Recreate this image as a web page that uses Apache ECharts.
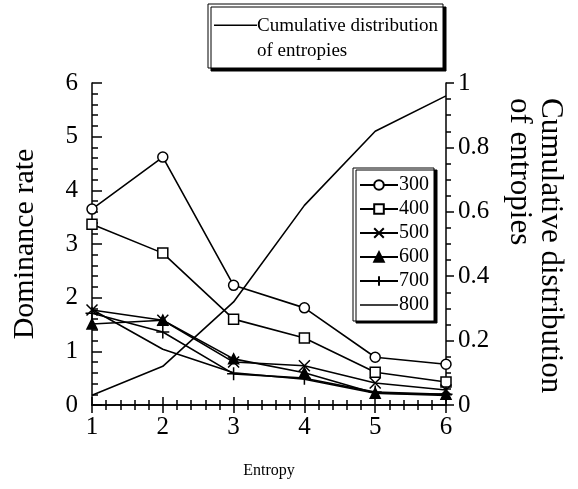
<!DOCTYPE html>
<html>
<head>
<meta charset="utf-8">
<script src="https://cdn.jsdelivr.net/npm/echarts@6/dist/echarts.min.js"></script>
<style>
    html, body { margin: 0; padding: 0; background: #fff; }
    #chart { width: 578px; height: 489px; }
</style>
</head>
<body>
<div id="chart"></div>
<script>
// Valores
var entropy = [1, 2, 3, 4, 5, 6];
var s300 = [3.65, 4.62, 2.23, 1.81, 0.89, 0.76];
var s400 = [3.37, 2.83, 1.60, 1.25, 0.61, 0.43];
var s500 = [1.77, 1.58, 0.80, 0.73, 0.41, 0.28];
var s600 = [1.51, 1.58, 0.86, 0.60, 0.22, 0.20];
var s700 = [1.71, 1.36, 0.58, 0.50, 0.24, 0.20];
var s800 = [1.78, 1.04, 0.60, 0.48, 0.22, 0.18];
var cumulative = [0.03, 0.12, 0.32, 0.62, 0.85, 0.96];

var serif = 'Liberation Serif';
var cumName = 'Cumulative distribution\nof entropies';

function pairs(values) {
    return values.map(function (v, i) {
        return [entropy[i], v];
    });
}

var crossPath = 'path://M0,0L10,10M10,0L0,10';
var plusPath = 'path://M5,0L5,10M0,5L10,5';
// linha da legenda no topo (deslocada para alinhar com a 1a linha do texto)
var topLinePath = 'path://M0,0L43,0L43,1.6L0,1.6Z M0,29L0.1,29L0.1,29.01Z';
var flatLinePath = 'path://M0,0L40,0L40,1.6L0,1.6Z';

function lineSeries(name, values, symbol, size, fill) {
    return {
        name: name,
        type: 'line',
        data: pairs(values),
        symbol: symbol,
        symbolSize: size,
        showSymbol: symbol !== 'none',
        lineStyle: { color: '#000', width: 1.6 },
        itemStyle: { color: fill, borderColor: '#000', borderWidth: 1.5 },
        z: 3
    };
}

document.addEventListener('DOMContentLoaded', function () {
    var chart = echarts.init(document.getElementById('chart'));

    var option = {
        animation: false,
        backgroundColor: '#fff',
        textStyle: { fontFamily: serif, color: '#000' },
        grid: { left: 92, right: 132, top: 83, bottom: 84 },
        legend: [
            {
                data: [{ name: cumName, icon: topLinePath }],
                left: 208,
                top: 4,
                orient: 'vertical',
                padding: [10, 5, 4, 6],
                itemWidth: 43,
                itemHeight: 29,
                backgroundColor: '#fff',
                borderColor: '#000',
                borderWidth: 1,
                shadowColor: '#000',
                shadowOffsetX: 3,
                shadowOffsetY: 3,
                shadowBlur: 0,
                textStyle: { fontFamily: serif, fontSize: 19, color: '#000', lineHeight: 25, padding: [0, 0, 0, -5] }
            },
            {
                data: ['300', '400', '500', '600', '700',
                    { name: '800', icon: flatLinePath, itemStyle: { borderWidth: 0 } }],
                left: 353,
                top: 168,
                orient: 'vertical',
                itemGap: 4,
                itemWidth: 38,
                itemHeight: 12,
                padding: [7, 5, 6, 6],
                backgroundColor: '#fff',
                borderColor: '#000',
                borderWidth: 1,
                shadowColor: '#000',
                shadowOffsetX: 3,
                shadowOffsetY: 2,
                shadowBlur: 0,
                textStyle: { fontFamily: serif, fontSize: 20, color: '#000', padding: [0, 0, 0, -4] }
            }
        ],
        xAxis: [
            {
                type: 'value',
                min: 1,
                max: 6,
                interval: 1,
                name: 'Entropy',
                nameLocation: 'middle',
                nameGap: 58,
                nameTextStyle: { fontFamily: serif, fontSize: 16, color: '#000' },
                axisLine: { lineStyle: { color: '#000', width: 1.5 } },
                axisTick: { inside: true, length: 8, lineStyle: { color: '#000', width: 1.5 } },
                minorTick: { show: true, splitNumber: 5, length: 5, lineStyle: { color: '#000', width: 1.5 } },
                axisLabel: { fontFamily: serif, fontSize: 25, color: '#000', margin: 10 },
                splitLine: { show: false }
            },
            {
                type: 'value',
                position: 'top',
                min: 1,
                max: 6,
                interval: 1,
                axisLine: { lineStyle: { color: '#000', width: 1.5 } },
                axisTick: { inside: true, length: 8, lineStyle: { color: '#000', width: 1.5 } },
                minorTick: { show: true, splitNumber: 5, length: 5, lineStyle: { color: '#000', width: 1.5 } },
                axisLabel: { show: false },
                splitLine: { show: false }
            }
        ],
        yAxis: [
            {
                type: 'value',
                min: 0,
                max: 6,
                interval: 1,
                name: 'Dominance rate',
                nameLocation: 'middle',
                nameGap: 51,
                nameTextStyle: { fontFamily: serif, fontSize: 30, color: '#000', lineHeight: 32 },
                axisLine: { show: true, lineStyle: { color: '#000', width: 1.5 } },
                axisTick: { show: true, inside: true, length: 10, lineStyle: { color: '#000', width: 1.5 } },
                minorTick: { show: true, splitNumber: 5, length: 6, lineStyle: { color: '#000', width: 1.5 } },
                axisLabel: { fontFamily: serif, fontSize: 25, color: '#000', margin: 14 },
                splitLine: { show: false }
            },
            {
                type: 'value',
                min: 0,
                max: 1,
                interval: 0.2,
                position: 'right',
                name: '{a|Cumulative distribution}\n{a|of entropies}',
                nameLocation: 'middle',
                nameRotate: -90,
                nameGap: 58,
                nameTextStyle: {
                    fontFamily: serif,
                    fontSize: 31,
                    color: '#000',
                    rich: {
                        a: { fontFamily: serif, fontSize: 31, color: '#000', lineHeight: 31, width: 292, align: 'left' }
                    }
                },
                axisLine: { show: true, lineStyle: { color: '#000', width: 1.5 } },
                axisTick: { show: true, inside: false, length: 8, lineStyle: { color: '#000', width: 1.5 } },
                minorTick: { show: true, splitNumber: 4, length: 5, lineStyle: { color: '#000', width: 1.5 } },
                axisLabel: { fontFamily: serif, fontSize: 25, color: '#000', margin: 12 },
                splitLine: { show: false }
            }
        ],
        series: [
            {
                name: cumName,
                type: 'line',
                yAxisIndex: 1,
                data: pairs(cumulative),
                symbol: 'none',
                lineStyle: { color: '#000', width: 1.6 },
                itemStyle: { color: '#000' },
                z: 2
            },
            lineSeries('300', s300, 'circle', 10, '#fff'),
            lineSeries('400', s400, 'rect', 10, '#fff'),
            lineSeries('500', s500, crossPath, 11, '#000'),
            lineSeries('600', s600, 'triangle', 10, '#000'),
            lineSeries('700', s700, plusPath, 13, '#000'),
            lineSeries('800', s800, 'none', 8, '#000')
        ]
    };

    chart.setOption(option);
});
</script>
</body>
</html>
